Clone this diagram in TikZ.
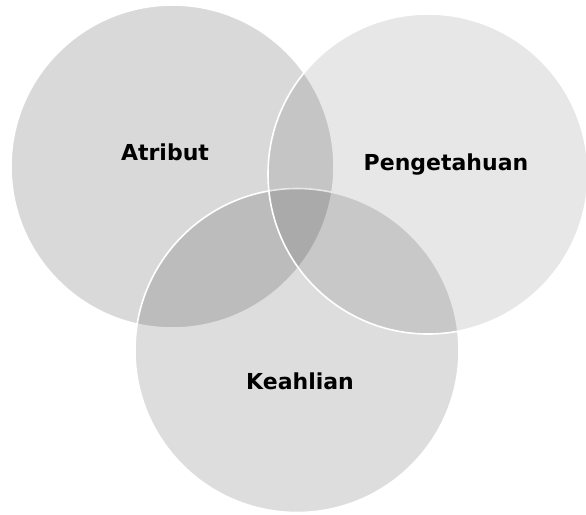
\documentclass[tikz,border=0pt]{standalone}
\usepackage{fontspec}
\setmainfont{DejaVu Sans}
\begin{document}
\begin{tikzpicture}[x=1pt,y=-1pt,
  venn/.style={circle,inner sep=0pt,draw=white,line width=1.6pt,fill=black},
  lbl/.style={font=\fontsize{22}{26}\selectfont\bfseries,text=black,inner sep=0pt}]
\useasboundingbox (0,0) rectangle (586,514);
\node[venn,fill opacity=0.15,minimum size=323pt] (atribut) at (172.5,166.5) {};
\node[venn,fill opacity=0.135,minimum size=324pt] (keahlian) at (297,350.5) {};
\node[venn,fill opacity=0.095,minimum size=320pt] (peng) at (428,174) {};
\node[lbl] (tA) at (165,152) {Atribut};
\node[lbl] (tP) at (446,165) {Pengetahuan};
\node[lbl] (tK) at (300,381) {Keahlian};
\end{tikzpicture}
\end{document}
